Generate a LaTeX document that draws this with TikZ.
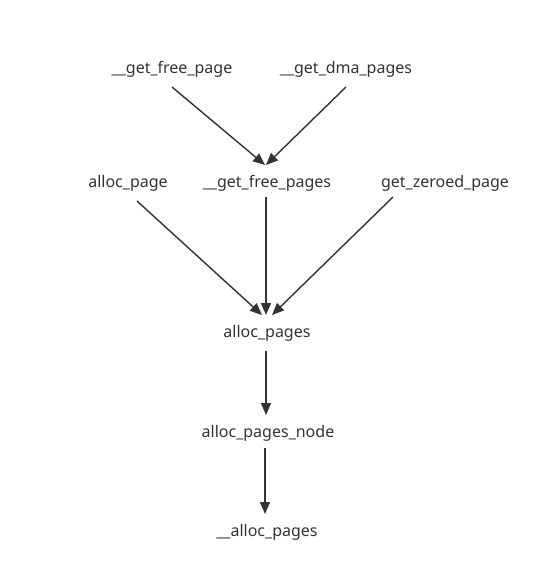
\documentclass[tikz,border=0pt]{standalone}
\usepackage{fontspec}
\setmainfont{Noto Sans}
\usetikzlibrary{arrows.meta,positioning}
\definecolor{ink}{RGB}{51,51,51}
\tikzset{
  fn/.style={inner sep=0pt,outer sep=0pt,minimum height=36pt,
    font=\fontsize{16}{18}\selectfont,text=ink},
  arr/.style={-{Triangle[length=12pt,width=10pt]},line width=1.4pt,ink},
}
\begin{document}
\begin{tikzpicture}[x=1pt,y=-1pt]
  \useasboundingbox (0,0) rectangle (558,584);
  \node[fn] (gfp)  at (172,69)  {\_\_get\_free\_page};
  \node[fn] (gdma) at (346,69)  {\_\_get\_dma\_pages};
  \node[fn] (ap)   at (128,183) {alloc\_page};
  \node[fn] (gfps) at (267,183) {\_\_get\_free\_pages};
  \node[fn] (gzp)  at (445,183) {get\_zeroed\_page};
  \node[fn] (aps)  at (267,333) {alloc\_pages};
  \node[fn] (apn)  at (268,433) {alloc\_pages\_node};
  \node[fn] (uap)  at (267,532) {\_\_alloc\_pages};
  \draw[arr] (gfp.south) -- ([xshift=-2pt]gfps.north);
  \draw[arr] (gdma.south) -- ([xshift=-1pt]gfps.north);
  \draw[arr] ([xshift=9pt]ap.south) -- ([xshift=-5pt]aps.north);
  \draw[arr] ([xshift=-1pt,yshift=4pt]gfps.south) -- ([xshift=-1pt]aps.north);
  \draw[arr] ([xshift=-52pt,yshift=4pt]gzp.south) -- ([xshift=5pt]aps.north);
  \draw[arr] ([xshift=-1pt]aps.south) -- ([xshift=-2pt]apn.north);
  \draw[arr] ([xshift=-3pt,yshift=3pt]apn.south) -- ([xshift=-2pt]uap.north);
\end{tikzpicture}
\end{document}
